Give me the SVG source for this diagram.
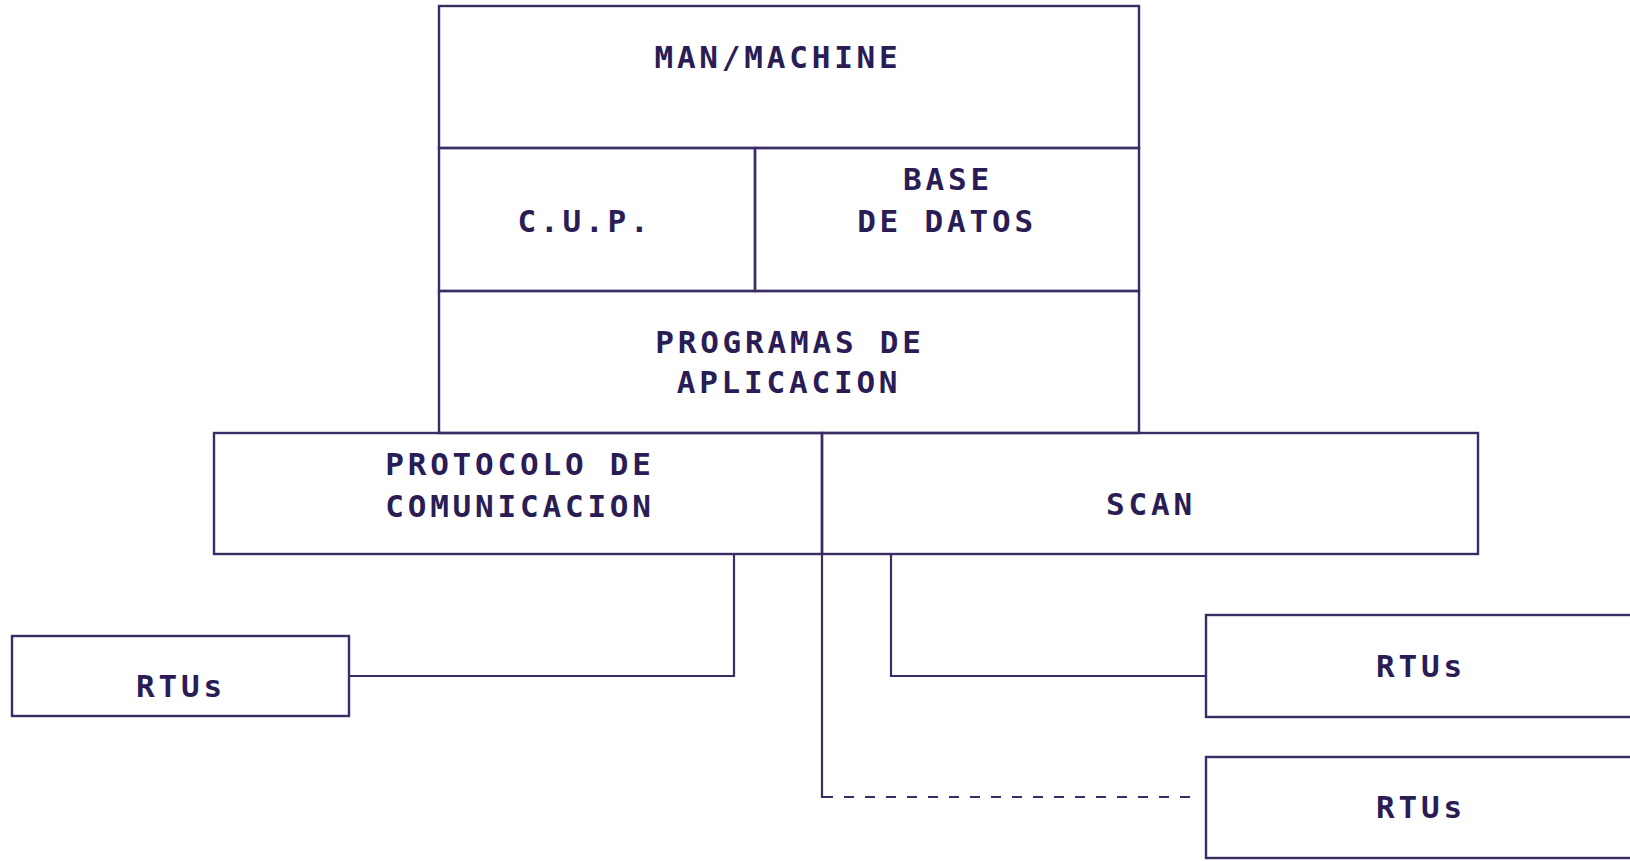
<svg xmlns="http://www.w3.org/2000/svg" width="1630" height="861" viewBox="0 0 1630 861">
<style>
.box{fill:none;stroke:#3b2c66;stroke-width:2.4}
.ln{fill:none;stroke:#3b2c66;stroke-width:2.2}
.dash{fill:none;stroke:#3b2c66;stroke-width:2.2;stroke-dasharray:10 11}
.t{font-family:"DejaVu Sans Mono","Liberation Mono",monospace;font-weight:bold;font-size:31px;letter-spacing:3.8px;fill:#2a1d55;text-anchor:middle}
</style>
<rect width="1630" height="861" fill="#ffffff"/>
<g id="man_machine">
<rect class="box" x="439" y="6" width="700" height="142"/>
<text class="t" x="778" y="68">MAN/MACHINE</text>
</g>
<g id="cup">
<rect class="box" x="439" y="148" width="316" height="143"/>
<text class="t" x="585" y="232">C.U.P.</text>
</g>
<g id="base_datos">
<rect class="box" x="755" y="148" width="384" height="143"/>
<text class="t" x="948" y="190">BASE</text>
<text class="t" x="947" y="232">DE DATOS</text>
</g>
<g id="programas">
<rect class="box" x="439" y="291" width="700" height="142"/>
<text class="t" x="790" y="353">PROGRAMAS DE</text>
<text class="t" x="789" y="393">APLICACION</text>
</g>
<g id="protocolo">
<rect class="box" x="214" y="433" width="608" height="121"/>
<text class="t" x="520" y="475">PROTOCOLO DE</text>
<text class="t" x="520" y="517">COMUNICACION</text>
</g>
<g id="scan">
<rect class="box" x="822" y="433" width="656" height="121"/>
<text class="t" x="1151" y="515">SCAN</text>
</g>
<g id="rtu_left">
<rect class="box" x="12" y="636" width="337" height="80"/>
<text class="t" x="181" y="697">RTUs</text>
</g>
<g id="rtu_right1">
<rect class="box" x="1206" y="615" width="440" height="102"/>
<text class="t" x="1421" y="677">RTUs</text>
</g>
<g id="rtu_right2">
<rect class="box" x="1206" y="757" width="440" height="101"/>
<text class="t" x="1421" y="818">RTUs</text>
</g>
<g id="connectors">
<polyline class="ln" points="734,554 734,676 349,676"/>
<polyline class="ln" points="891,554 891,676 1206,676"/>
<line class="ln" x1="822" y1="554" x2="822" y2="798"/>
<line class="dash" x1="823" y1="797" x2="1194" y2="797"/>
</g>
</svg>
